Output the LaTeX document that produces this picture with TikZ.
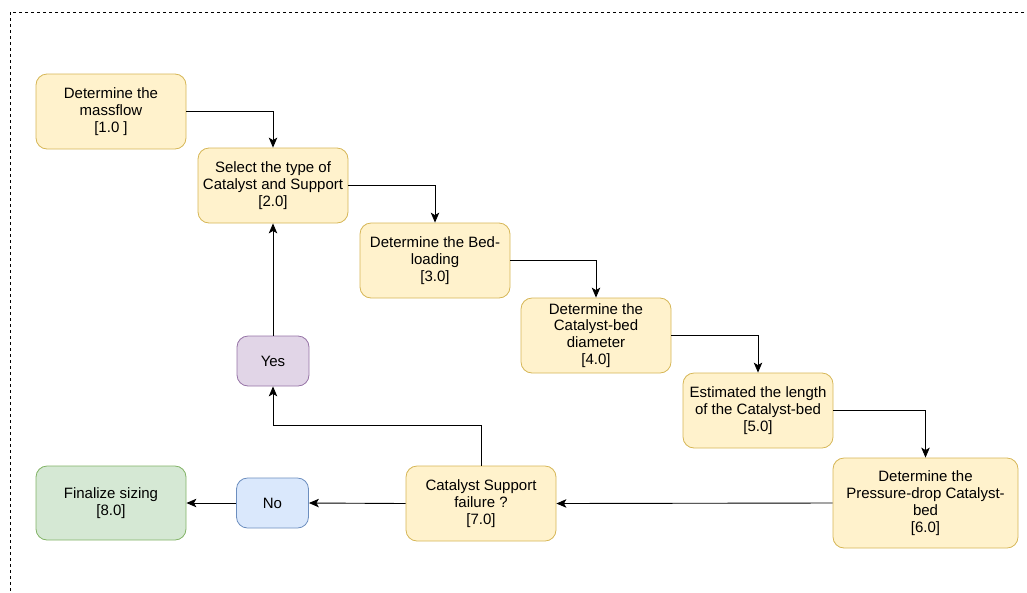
\documentclass[tikz,border=0pt]{standalone}
\usepackage{fontspec}
\setmainfont{Liberation Sans}
\usetikzlibrary{arrows.meta}

\begin{document}
\begin{tikzpicture}[x=1pt, y=-1pt,
    every node/.style={font=\fontsize{15}{16.8}\selectfont, align=center, inner sep=0pt},
    box/.style={draw=#1!70!black, line width=0.8pt, rounded corners=11pt, minimum width=150pt, minimum height=75pt},
    task/.style={box=yellowline, fill=yellowfill, draw=yellowline},
    flow/.style={-{Stealth[length=10pt, width=8.5pt, inset=2.5pt]}, line width=0.9pt}]
    \definecolor{yellowfill}{HTML}{FFF2CC}
    \definecolor{yellowline}{HTML}{D6B656}
    \definecolor{purplefill}{HTML}{E1D5E7}
    \definecolor{purpleline}{HTML}{9673A6}
    \definecolor{bluefill}{HTML}{DAE8FC}
    \definecolor{blueline}{HTML}{6C8EBF}
    \definecolor{greenfill}{HTML}{D5E8D4}
    \definecolor{greenline}{HTML}{82B366}

    \clip (0,0) rectangle (1027,592);
    % Frame
    \draw[dashed, dash pattern=on 3pt off 3pt, line width=0.9pt] (10,12) rectangle (1040,605);

    % Sizing steps
    \node[task] (mass) at (111,111.5) {Determine the\\massflow\\{}[1.0 ]};
    \node[task] (catalyst) at (273,185.5) {Select the type of\\Catalyst and Support\\{}[2.0]};
    \node[task] (loading) at (435,260.5) {Determine the Bed-\\loading\\{}[3.0]};
    \node[task] (diameter) at (596,335.5) {Determine the\\Catalyst-bed\\diameter\\{}[4.0]};
    \node[task] (length) at (758,410.5) {Estimated the length\\of the Catalyst-bed\\{}[5.0]};
    \node[task, minimum width=185pt, minimum height=90pt] (pdrop) at (925.5,503) {Determine the\\Pressure-drop Catalyst-\\bed\\{}[6.0]};
    \node[task] (failure) at (481,503.5) {Catalyst Support\\failure ?\\{}[7.0]};

    % Decision outcomes
    \node[box=purpleline, draw=purpleline, fill=purplefill, minimum width=72pt, minimum height=50pt] (yes) at (273,361) {Yes};
    \node[box=blueline, draw=blueline, fill=bluefill, minimum width=72pt, minimum height=50pt] (no) at (272.5,503) {No};
    \node[box=greenline, draw=greenline, fill=greenfill, minimum height=74pt] (final) at (111,503) {Finalize sizing\\{}[8.0]};

    % Staircase arrows
    \draw[flow] (mass.east) -| (catalyst.north);
    \draw[flow] (catalyst.east) -| (loading.north);
    \draw[flow] (loading.east) -| (diameter.north);
    \draw[flow] (diameter.east) -| (length.north);
    \draw[flow] (length.east) -| (pdrop.north);

    % Bottom row, right to left
    \draw[flow] (pdrop.west) -- (failure.east);
    \draw[flow] (failure.west) -- (no.east);
    \draw[flow] (no.west) -- (final.east);

    % Loop back
    \draw[flow] (failure.north) |- (273,425) -- (yes.south);
    \draw[flow] (yes.north) -- (catalyst.south);
\end{tikzpicture}
\end{document}
